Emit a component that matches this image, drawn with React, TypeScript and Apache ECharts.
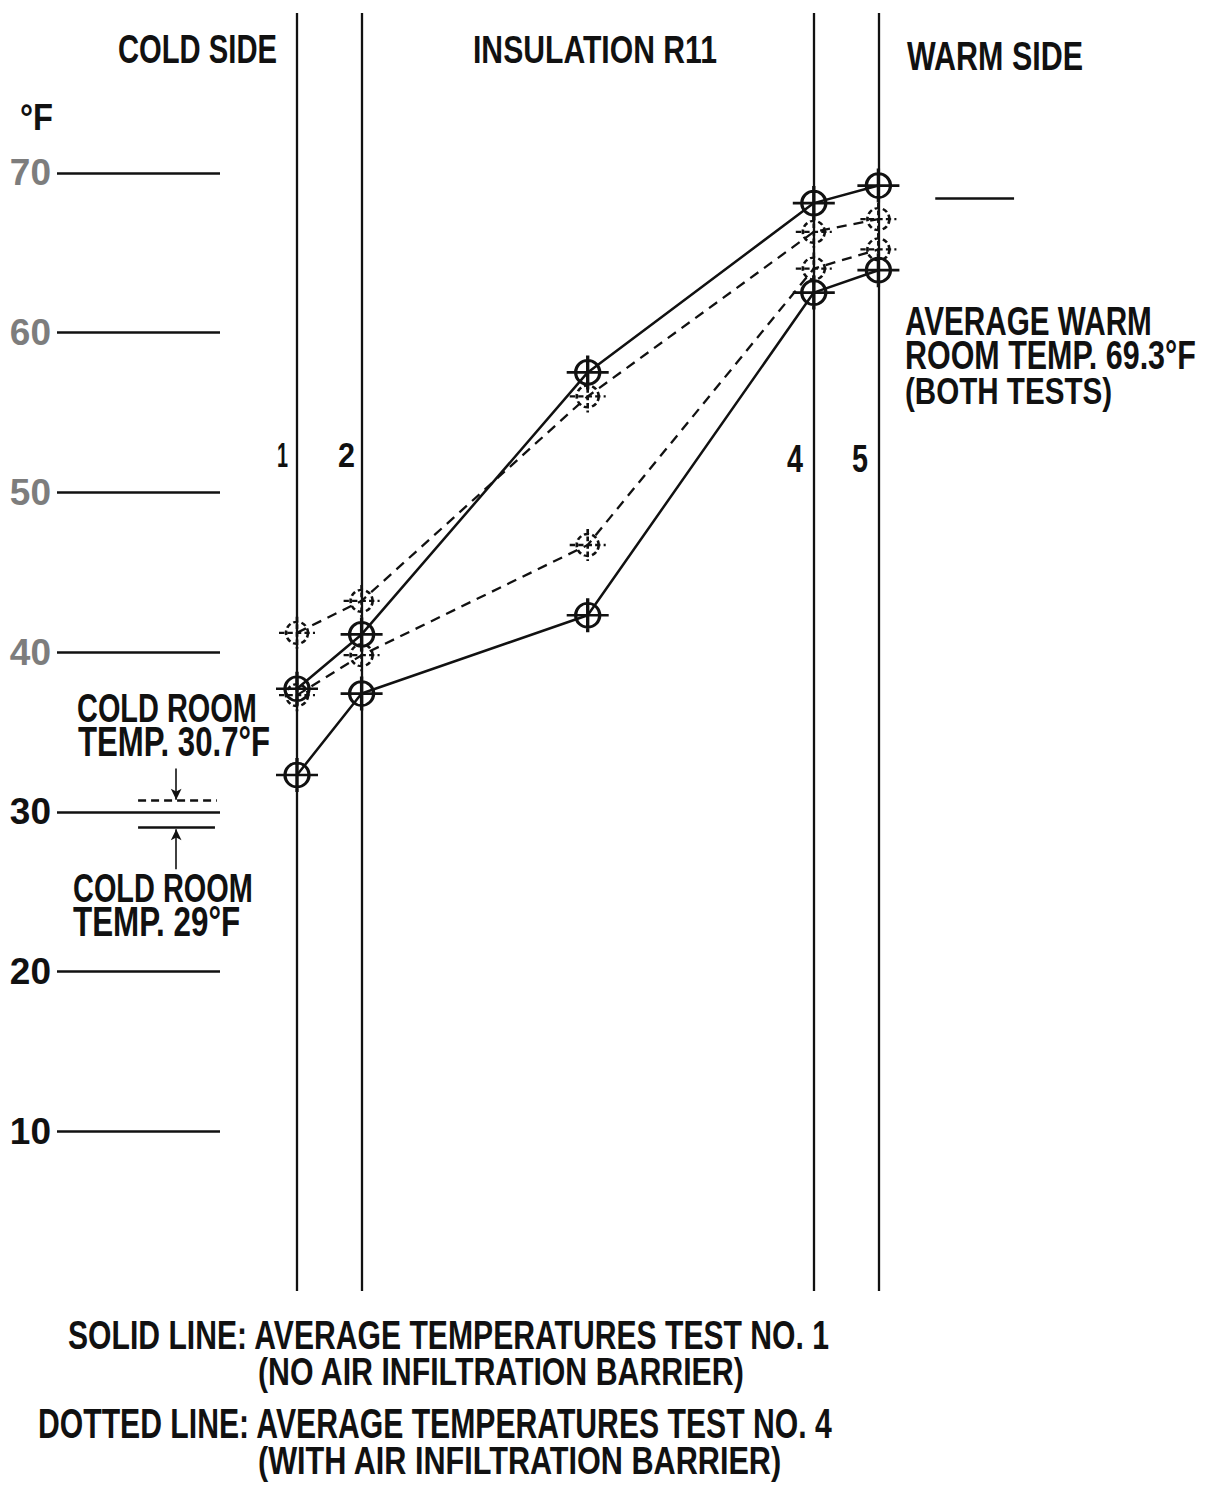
import { useEffect, useRef } from 'react';
import * as echarts from 'echarts';

// ---- data ----
const layerPositions = [0, 1, 4.5, 8, 9]; // measuring points 1..5 through the wall
const solidUpper = [37.7, 41.1, 57.5, 68.1, 69.2];
const solidLower = [32.3, 37.4, 42.3, 62.5, 63.9];
const dottedUpper = [41.2, 43.2, 56.0, 66.3, 67.1];
const dottedLower = [37.3, 39.8, 46.7, 64.0, 65.2];
const tickValues = [10, 20, 30, 40, 50, 60, 70];
const boundaryPositions = [0, 1, 8, 9];
const boundaryLabels = ['1', '2', '4', '5'];
const coldRoomTest4 = 30.7; // dashed
const coldRoomTest1 = 29; // solid
const warmRoomDrawn = 68.4;

const FONT = '"Liberation Sans", Arial, sans-serif';

// text: [text, left, capTop, capBottom, right]
const texts: [string, number, number, number, number][] = [
  ['COLD SIDE', 118, 34, 63, 277],
  ['INSULATION R11', 473, 35, 63, 717],
  ['WARM SIDE', 907, 42, 71, 1083],
  ['°F', 20, 103, 130, 53],
  [boundaryLabels[0], 277, 442, 467, 288],
  [boundaryLabels[1], 338, 442, 467, 355],
  [boundaryLabels[2], 787, 444, 472, 803],
  [boundaryLabels[3], 852, 444, 472, 868],
  ['COLD ROOM', 77, 693, 722, 257],
  ['TEMP. 30.7°F', 78, 727, 757, 270],
  ['COLD ROOM', 73, 873, 902, 253],
  ['TEMP. 29°F', 73, 907, 937, 240],
  ['AVERAGE WARM', 905, 307, 336, 1152],
  ['ROOM TEMP. 69.3°F', 905, 341, 370, 1196],
  ['(BOTH TESTS)', 905, 377, 404, 1112],
  ['SOLID LINE: AVERAGE TEMPERATURES TEST NO. 1', 68, 1321, 1350, 830],
  ['(NO AIR INFILTRATION BARRIER)', 258, 1357, 1385, 745],
  ['DOTTED LINE: AVERAGE TEMPERATURES TEST NO. 4', 38, 1409, 1439, 833],
  ['(WITH AIR INFILTRATION BARRIER)', 258, 1446, 1474, 782],
];

const solidSymbol =
  'path://M-21,0L21,0M0,-17L0,17M12,0A12,12,0,1,1,-12,0A12,12,0,1,1,12,0';
const dottedSymbol =
  'path://M-18,0L18,0M0,-16L0,16M11,0A11,11,0,1,1,-11,0A11,11,0,1,1,11,0';

function pairs(ys: number[]) {
  return layerPositions.map((x, i) => [x, ys[i]]);
}

export default function App() {
  const ref = useRef<HTMLDivElement>(null);
  useEffect(() => {
    document.body.style.margin = '0';
    const el = ref.current!;
    const chart = echarts.init(el, undefined, { renderer: 'svg' });
    const ctx = document.createElement('canvas').getContext('2d')!;

    const graphics = texts.map(([t, l, ct, cb, r]) => {
      const fs = (cb - ct) / 0.716;
      ctx.font = `bold ${fs}px ${FONT}`;
      const w = ctx.measureText(t).width || 1;
      return {
        type: 'text',
        x: l,
        y: (ct + cb) / 2,
        scaleX: (r - l) / w,
        silent: true,
        style: {
          text: t,
          fontSize: fs,
          fontFamily: FONT,
          fontWeight: 'bold',
          fill: '#111',
          textAlign: 'left',
          textVerticalAlign: 'middle',
          align: 'left',
          verticalAlign: 'middle',
        },
      };
    });

    const solidLine = { color: '#111', width: 2.5, type: 'solid' as const };
    const dottedLine = { color: '#111', width: 2.3, type: [10, 7] };

    chart.setOption({
      animation: false,
      grid: [
        { left: 6.3, width: 1065.9, top: 13, height: 1278 },
        { left: 57, width: 163, top: 13, height: 1278 },
      ],
      xAxis: [
        { type: 'value', min: -4.5, max: 12, show: false, gridIndex: 0 },
        { type: 'value', min: 0, max: 1, show: false, gridIndex: 1 },
      ],
      yAxis: [
        { type: 'value', min: 0, max: 80, interval: 10, show: false, gridIndex: 0 },
        {
          type: 'value',
          min: 0,
          max: 80,
          interval: 10,
          gridIndex: 1,
          axisLine: { show: false },
          axisTick: { show: false },
          splitLine: { show: false },
          axisLabel: {
            margin: 6,
            fontSize: 37,
            fontFamily: FONT,
            fontWeight: 'bold',
            color: (v: any) => (Number(v) >= 40 ? '#7d7d7d' : '#111'),
            formatter: (v: number) => (tickValues.includes(v) ? String(v) : ''),
          },
        },
      ],
      series: [
        {
          type: 'line',
          xAxisIndex: 1,
          yAxisIndex: 1,
          data: [],
          silent: true,
          markLine: {
            silent: true,
            symbol: 'none',
            label: { show: false },
            lineStyle: { color: '#111', width: 2.7, type: 'solid' },
            data: tickValues.map((v) => ({ yAxis: v })),
          },
        },
        {
          type: 'line',
          name: 'frame',
          data: [],
          silent: true,
          markLine: {
            silent: true,
            symbol: 'none',
            label: { show: false },
            lineStyle: { color: '#111', width: 2.3, type: 'solid' },
            data: [
              ...boundaryPositions.map((x) => ({ xAxis: x })),
              [
                { coord: [9.88, warmRoomDrawn], lineStyle: { width: 2.7 } },
                { coord: [11.1, warmRoomDrawn] },
              ],
              [
                { coord: [-2.46, coldRoomTest1], lineStyle: { width: 2.7 } },
                { coord: [-1.27, coldRoomTest1] },
              ],
              [
                { coord: [-2.46, coldRoomTest4], lineStyle: { type: [8, 5], width: 2.7 } },
                { coord: [-1.24, coldRoomTest4] },
              ],
            ],
          },
        },
        {
          type: 'line',
          name: 'arrows',
          data: [],
          silent: true,
          markLine: {
            silent: true,
            symbol: ['none', 'arrow'],
            symbolSize: [8, 11],
            label: { show: false },
            lineStyle: { color: '#111', width: 1.6, type: 'solid' },
            data: [
              [{ coord: [-1.87, 32.7] }, { coord: [-1.87, coldRoomTest4 + 0.05] }],
              [{ coord: [-1.87, 26.4] }, { coord: [-1.87, coldRoomTest1 - 0.1] }],
            ],
          },
        },
        {
          type: 'line',
          name: 'Test 4 upper',
          data: pairs(dottedUpper),
          symbol: dottedSymbol,
          symbolSize: [36, 32],
          lineStyle: dottedLine,
          itemStyle: { color: 'none', borderColor: '#111', borderWidth: 2.5, borderType: [5, 3] },
          silent: true,
        },
        {
          type: 'line',
          name: 'Test 4 lower',
          data: pairs(dottedLower),
          symbol: dottedSymbol,
          symbolSize: [36, 32],
          lineStyle: dottedLine,
          itemStyle: { color: 'none', borderColor: '#111', borderWidth: 2.5, borderType: [5, 3] },
          silent: true,
        },
        {
          type: 'line',
          name: 'Test 1 upper',
          data: pairs(solidUpper),
          symbol: solidSymbol,
          symbolSize: [42, 34],
          lineStyle: solidLine,
          itemStyle: { color: 'none', borderColor: '#111', borderWidth: 3 },
          silent: true,
        },
        {
          type: 'line',
          name: 'Test 1 lower',
          data: pairs(solidLower),
          symbol: solidSymbol,
          symbolSize: [42, 34],
          lineStyle: solidLine,
          itemStyle: { color: 'none', borderColor: '#111', borderWidth: 3 },
          silent: true,
        },
      ],
      graphic: graphics,
    });
    return () => chart.dispose();
  }, []);
  return <div ref={ref} style={{ width: 1211, height: 1485, background: '#fff' }} />;
}
